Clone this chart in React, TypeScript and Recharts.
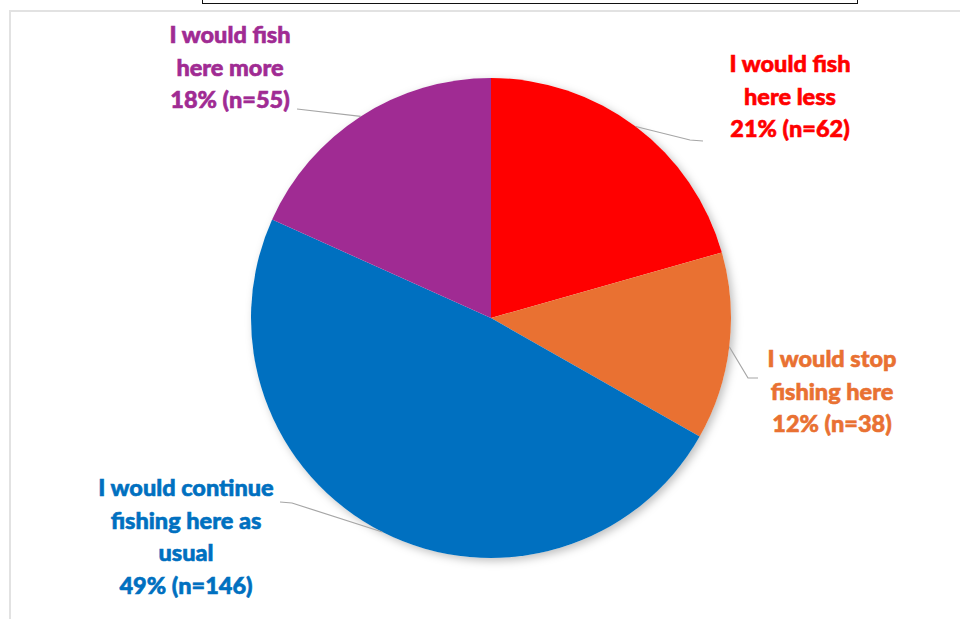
import React from "react";
import { PieChart, Pie, Cell } from "recharts";

const categories = [
  "I would fish here less",
  "I would stop fishing here",
  "I would continue fishing here as usual",
  "I would fish here more",
];
const counts = [62, 38, 146, 55];
const percentLabels = ["21%", "12%", "49%", "18%"];
const labelLines = [
  ["I would fish", "here less"],
  ["I would stop", "fishing here"],
  ["I would continue", "fishing here as", "usual"],
  ["I would fish", "here more"],
];

const colors = ["#FF0000", "#E97132", "#0070C0", "#A02B93"];

// label layout offsets relative to pie center (style only)
const labelLayout = [
  { tx: 299, ty: -255, pts: [[199, -178], [212, -177]] },
  { tx: 341, ty: 40, pts: [[257, 60], [267, 60]] },
  { tx: -305, ty: 169, pts: [[-199, 185], [-211, 184]] },
  { tx: -261, ty: -284, pts: [[-194, -209]] },
];

const data = categories.map((name, i) => ({
  name,
  value: counts[i],
  pct: percentLabels[i],
  lines: labelLines[i],
}));

const RADIAN = Math.PI / 180;
const LINE_H = 32.6;

const renderLabel = (props: any) => {
  const { cx, cy, midAngle, outerRadius, index } = props;
  const d = data[index];
  const lay = labelLayout[index];
  const ex = cx + outerRadius * Math.cos(-midAngle * RADIAN);
  const ey = cy + outerRadius * Math.sin(-midAngle * RADIAN);
  const pts = [[ex, ey], ...lay.pts.map(([dx, dy]) => [cx + dx, cy + dy])];
  const lines = [...d.lines, `${d.pct} (n=${d.value})`];
  return (
    <g key={`lbl-${index}`}>
      <polyline
        points={pts.map((p) => p.join(",")).join(" ")}
        fill="none"
        stroke="#A6A6A6"
        strokeWidth={1.2}
      />
      {lines.map((t, i) => (
        <text
          key={i}
          x={cx + lay.tx}
          y={cy + lay.ty + i * LINE_H}
          textAnchor="middle"
          dominantBaseline="central"
          fill={colors[index]}
          stroke={colors[index]}
          strokeWidth={0.6}
          fontFamily="Lato, 'Noto Sans', sans-serif"
          fontWeight={900}
          fontSize={23.5}
        >
          {t}
        </text>
      ))}
    </g>
  );
};

export default function App() {
  return (
    <div style={{ position: "absolute", left: 0, top: 0, width: 960, height: 619, background: "#fff", overflow: "hidden" }}>
      <style>{`.shadow-pie path { filter: drop-shadow(3px 3px 4px rgba(0,0,0,0.25)); }`}</style>
      <div
        style={{
          position: "absolute",
          left: 9,
          top: 10,
          width: 980,
          height: 640,
          borderTop: "2px solid #E2E2E2",
          borderLeft: "2px solid #E2E2E2",
          boxSizing: "border-box",
        }}
      />
      <div
        style={{
          position: "absolute",
          left: 202,
          top: -10,
          width: 656,
          height: 14,
          border: "1.5px solid #111",
          boxSizing: "border-box",
          background: "#fff",
        }}
      />
      <div style={{ position: "absolute", left: 0, top: 0 }}>
        <PieChart width={960} height={619} margin={{ top: 0, right: 0, bottom: 0, left: 0 }}>
          <Pie
            data={[{ name: "bg", value: 1 }]}
            dataKey="value"
            cx={491}
            cy={318}
            outerRadius={240}
            startAngle={90}
            endAngle={-270}
            fill="#ffffff"
            stroke="none"
            className="shadow-pie"
            isAnimationActive={false}
            labelLine={false}
          />
          <Pie
            data={data}
            dataKey="value"
            nameKey="name"
            cx={491}
            cy={318}
            outerRadius={240}
            startAngle={90}
            endAngle={-270}
            stroke="none"
            labelLine={false}
            label={renderLabel}
            isAnimationActive={false}
          >
            {data.map((_, i) => (
              <Cell key={i} fill={colors[i]} />
            ))}
          </Pie>
        </PieChart>
      </div>
    </div>
  );
}
